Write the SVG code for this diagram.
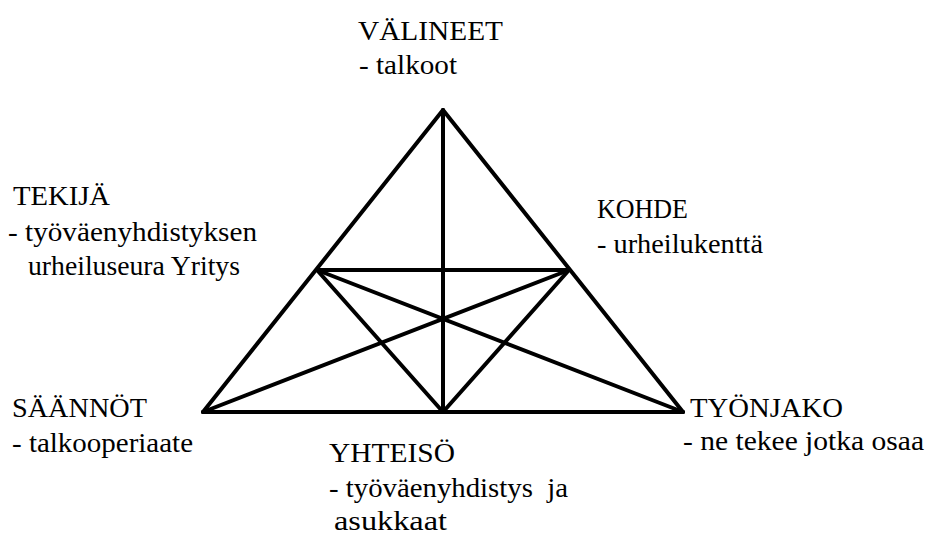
<svg xmlns="http://www.w3.org/2000/svg" width="926" height="535" viewBox="0 0 926 535">
<style>
text{font-family:'Liberation Serif','DejaVu Serif',serif;font-size:27px;fill:#000}
.c line{stroke:#000;stroke-width:4;stroke-linecap:round}
</style>
<rect width="926" height="535" fill="#fff"/>
<g id="connectors" class="c">
<line x1="443" y1="110" x2="203" y2="412"/>
<line x1="443" y1="110" x2="683" y2="412"/>
<line x1="203" y1="412" x2="683" y2="412"/>
<line x1="443" y1="110" x2="443" y2="412"/>
<line x1="317" y1="270" x2="569" y2="270"/>
<line x1="203" y1="412" x2="569" y2="270"/>
<line x1="683" y1="412" x2="317" y2="270"/>
<line x1="317" y1="270" x2="443" y2="412"/>
<line x1="569" y1="270" x2="443" y2="412"/>
</g>
<g id="valineet"><text x="358" y="40" textLength="145" lengthAdjust="spacingAndGlyphs">VÄLINEET</text><text x="359" y="74" textLength="98" lengthAdjust="spacingAndGlyphs">- talkoot</text></g>
<g id="tekija"><text x="13" y="205" textLength="97" lengthAdjust="spacingAndGlyphs">TEKIJÄ</text><text x="8" y="241" textLength="249" lengthAdjust="spacingAndGlyphs">- työväenyhdistyksen</text><text x="28" y="275" textLength="212" lengthAdjust="spacingAndGlyphs">urheiluseura Yritys</text></g>
<g id="kohde"><text x="597" y="218" textLength="91" lengthAdjust="spacingAndGlyphs">KOHDE</text><text x="597" y="253" textLength="166" lengthAdjust="spacingAndGlyphs">- urheilukenttä</text></g>
<g id="saannot"><text x="12" y="417" textLength="135" lengthAdjust="spacingAndGlyphs">SÄÄNNÖT</text><text x="12" y="452" textLength="181" lengthAdjust="spacingAndGlyphs">- talkooperiaate</text></g>
<g id="yhteiso"><text x="329" y="462" textLength="126" lengthAdjust="spacingAndGlyphs">YHTEISÖ</text><text x="329" y="497" textLength="239" lengthAdjust="spacingAndGlyphs" xml:space="preserve">- työväenyhdistys  ja</text><text x="334" y="530" textLength="113" lengthAdjust="spacingAndGlyphs">asukkaat</text></g>
<g id="tyonjako"><text x="690" y="417" textLength="153" lengthAdjust="spacingAndGlyphs">TYÖNJAKO</text><text x="683" y="450" textLength="241" lengthAdjust="spacingAndGlyphs">- ne tekee jotka osaa</text></g>
</svg>
